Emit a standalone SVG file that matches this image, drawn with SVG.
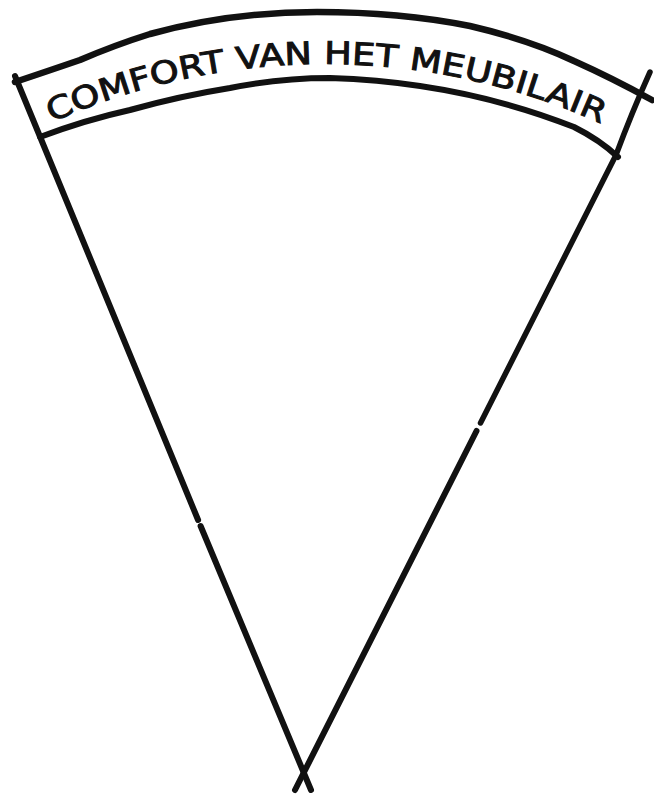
<svg xmlns="http://www.w3.org/2000/svg" width="654" height="795" viewBox="0 0 654 795">
<style>
.ink{fill:none;stroke:#111;stroke-linecap:round;stroke-linejoin:round}
.lbl{font-family:"DejaVu Sans","Liberation Sans",sans-serif;font-size:31px;fill:#111;stroke:#111;stroke-width:1}
</style>
<defs>
<path id="tp" d="M51.8,122.3 A669,669 0 0 1 604.6,125.2"/>
</defs>
<rect width="654" height="795" fill="#fff"/>
<g id="banner">
<path class="ink" stroke-width="6.5" d="M15,82 Q45,72 80,60 Q115,45 150,34 Q230,12 317,12 Q400,12 470,26 Q530,40 574,61 Q612,78 652,100"/>
<path class="ink" stroke-width="6" d="M40,137 Q85,120 130,110 Q180,96 230,88 Q280,78 330,78 Q460,82 574,127 Q600,140 618,157"/>
<text class="lbl" textLength="566" lengthAdjust="spacingAndGlyphs"><textPath href="#tp">COMFORT VAN HET MEUBILAIR</textPath></text>
</g>
<g id="connectors">
<path class="ink" stroke-width="6" d="M15,76 L198.1,520"/>
<path class="ink" stroke-width="6" d="M200.6,526 L311,790"/>
<path class="ink" stroke-width="5.5" d="M650,72 Q632,112 616,155 L480.5,423"/>
<path class="ink" stroke-width="6" d="M476.5,431 L295,790"/>
</g>
</svg>
